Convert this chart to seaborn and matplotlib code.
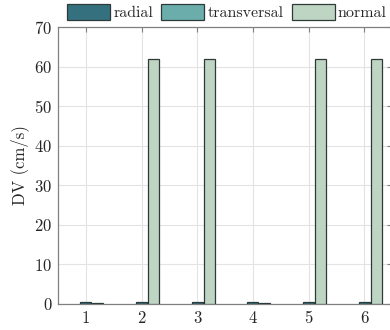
import matplotlib
matplotlib.use("Agg")
import matplotlib.pyplot as plt
import seaborn as sns
import pandas as pd

categories = [1, 2, 3, 4, 5, 6]
radial = [0.5, 0.5, 0.5, 0.5, 0.5, 0.5]
transversal = [0.0, 0.0, 0.0, 0.0, 0.0, 0.0]
normal = [0.3, 62.0, 62.0, 0.3, 62.0, 62.0]
series_names = ["radial", "transversal", "normal"]
colors = ["#35707f", "#6aadaa", "#bfd5c3"]
offsets = [0.0, 0.108, 0.216]

sns.set_theme(style="white")
plt.rcParams["font.family"] = ["cmr10", "DejaVu Serif"]
plt.rcParams["axes.formatter.use_mathtext"] = True
plt.rcParams["mathtext.fontset"] = "cm"

fig = plt.figure(figsize=(3.9, 3.3), dpi=100)
ax = fig.add_axes([58 / 390, 26 / 330, 334 / 390, 277 / 330])

series_values = [radial, transversal, normal]
for name, vals, col, off in zip(series_names, series_values, colors, offsets):
    df = pd.DataFrame({"x": [c + off for c in categories], "DV": vals})
    sns.barplot(data=df, x="x", y="DV", native_scale=True, width=0.198,
                color=col, edgecolor="#2e3a3a", linewidth=0.9, saturation=1,
                ax=ax, label=name, zorder=3)

if ax.get_legend() is not None:
    ax.get_legend().remove()

ax.set_xlim(0.5, 6.5)
ax.set_ylim(0, 70)
ax.set_xticks(categories)
ax.set_xticklabels([str(c) for c in categories])
ax.set_yticks(range(0, 71, 10))
ax.set_xlabel("")
ax.set_ylabel("DV (cm/s)", fontsize=12, color="#262626", labelpad=4)
ax.grid(True, color="#e3e3e3", linewidth=0.8, zorder=0)
ax.set_axisbelow(True)
for s in ax.spines.values():
    s.set_color("#808080")
    s.set_linewidth(0.9)
ax.tick_params(axis="both", direction="in", length=3.5, width=0.8, color="#808080",
               labelsize=12, labelcolor="#262626", top=True, right=True)
ax.tick_params(axis="y", pad=4)
ax.tick_params(axis="x", pad=5)

handles, labels = ax.get_legend_handles_labels()
leg = fig.legend(handles, labels, loc="center", bbox_to_anchor=(227 / 390, 1 - 12 / 330),
                 ncol=3, frameon=False, fontsize=11.5, handlelength=2.7, handleheight=1.25,
                 handletextpad=0.2, columnspacing=0.5, borderaxespad=0, borderpad=0)

fig.savefig("out.png", dpi=100)
